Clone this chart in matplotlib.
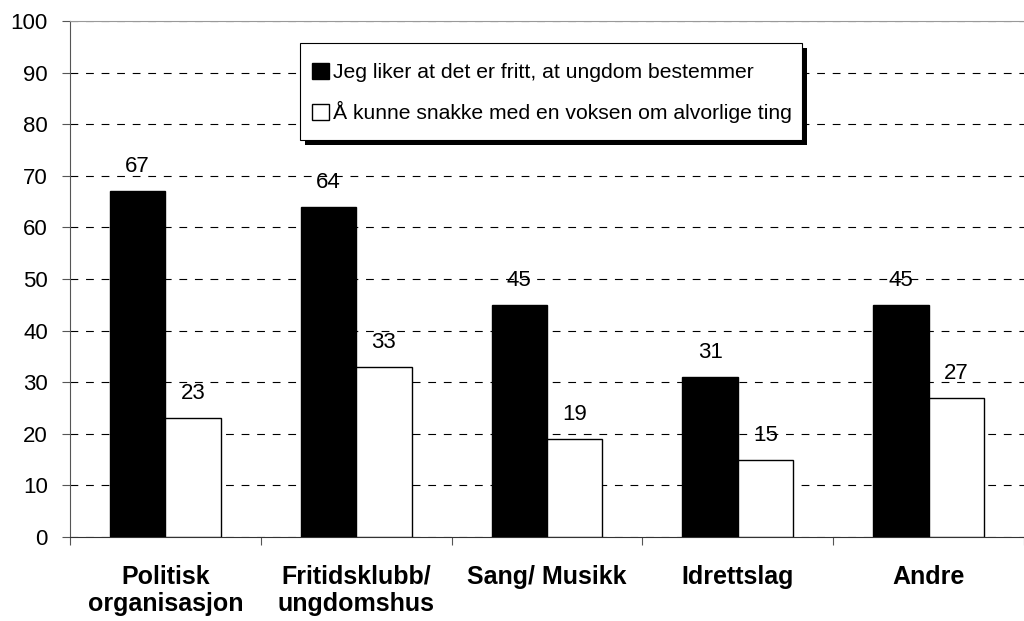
import numpy as np
import matplotlib.pyplot as plt
from matplotlib.patches import Rectangle

plt.rcParams['font.family'] = ['Liberation Sans', 'DejaVu Sans']

# Data
categories = ['Politisk\norganisasjon', 'Fritidsklubb/\nungdomshus', 'Sang/ Musikk',
              'Idrettslag', 'Andre']
frihet = [67, 64, 45, 31, 45]
voksen = [23, 33, 19, 15, 27]
series_names = ['Jeg liker at det er fritt, at ungdom bestemmer',
                'Å kunne snakke med en voksen om alvorlige ting']

fig = plt.figure(figsize=(10.24, 6.21), dpi=100)
ax = fig.add_axes([70 / 1024, 1 - 537 / 621, 954 / 1024, 516 / 621])

x = np.arange(len(categories))
w = 0.29
b1 = ax.bar(x - w / 2, frihet, w, color='black', edgecolor='black', linewidth=1,
            label=series_names[0], zorder=3)
b2 = ax.bar(x + w / 2, voksen, w, color='white', edgecolor='black', linewidth=1,
            label=series_names[1], zorder=3)

for bars, vals in [(b1, frihet), (b2, voksen)]:
    for r, v in zip(bars, vals):
        ax.annotate(str(v), (r.get_x() + r.get_width() / 2, v), xytext=(0, 10),
                    textcoords='offset points', ha='center', va='bottom', fontsize=16)

ax.set_xlim(-0.5, 4.47)
ax.set_ylim(0, 100)
ax.set_yticks(range(0, 101, 10))
ax.yaxis.grid(True, color='black', linestyle=(0, (7, 7)), linewidth=0.8, zorder=0)
ax.tick_params(axis='y', length=6, labelsize=16, color='#555555', pad=10)

ax.set_xticks(np.arange(-0.5, 5, 1))
ax.set_xticklabels([])
ax.set_xticks(x, minor=True)
ax.set_xticklabels(categories, minor=True, fontweight='bold', fontsize=18,
                   linespacing=1.15)
ax.tick_params(axis='x', which='major', length=6, color='#555555')
ax.tick_params(axis='x', which='minor', length=0, pad=20)

ax.spines['left'].set_color('#555555')
ax.spines['top'].set_color('#999999')
ax.spines['bottom'].set_color('#333333')
ax.spines['right'].set_visible(False)

# legend box with a hard black drop shadow
box_x0, box_x1, box_y0, box_y1 = 0.2411, 0.7673, 0.7694, 0.9574
ax.add_patch(Rectangle((box_x0 + 5 / 954, box_y0 - 5 / 516), box_x1 - box_x0,
                       box_y1 - box_y0, transform=ax.transAxes, facecolor='black',
                       edgecolor='none', zorder=4))
ax.add_patch(Rectangle((box_x0, box_y0), box_x1 - box_x0, box_y1 - box_y0,
                       transform=ax.transAxes, facecolor='white', edgecolor='black',
                       linewidth=0.8, zorder=4.5))
leg = ax.legend(loc='center', bbox_to_anchor=(0.505, 0.860), borderaxespad=0,
                fontsize=15.2, frameon=False,
                handlelength=0.8, handleheight=0.8, handletextpad=0.2,
                borderpad=0, labelspacing=0.9)
leg.set_zorder(5)

fig.savefig('out.png', dpi=100)
